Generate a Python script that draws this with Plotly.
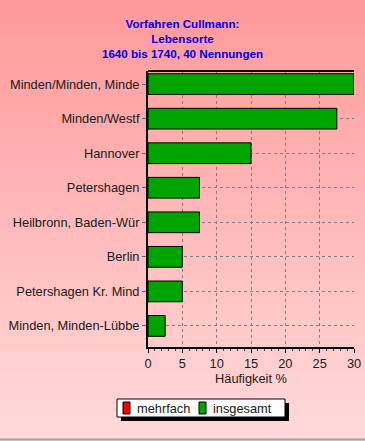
import plotly.graph_objects as go

categories = ["Minden/Minden, Minde", "Minden/Westf", "Hannover", "Petershagen",
              "Heilbronn, Baden-Wür", "Berlin", "Petershagen Kr. Mind", "Minden, Minden-Lübbe"]
insgesamt = [30, 27.5, 15, 7.5, 7.5, 5, 5, 2.5]
mehrfach = [0, 0, 0, 0, 0, 0, 0, 0]
x_ticks = [0, 5, 10, 15, 20, 25, 30]
series_names = ["mehrfach", "insgesamt"]
series_colors = ["#ff0000", "#00a400"]

title_lines = ["Vorfahren Cullmann:", "Lebensorte", "1640 bis 1740, 40 Nennungen"]

W, H = 365, 441
L, R, T, B = 148, 11, 71, 94
pw = W - L - R
ph = H - T - B


def px(x):
    return (x - L) / pw


def py(y):
    return (H - B - y) / ph


fig = go.Figure()
fig.add_trace(go.Bar(y=categories, x=mehrfach, orientation="h", name=series_names[0],
                     marker=dict(color=series_colors[0], line=dict(width=0)), width=0.6,
                     showlegend=False))
fig.add_trace(go.Bar(y=categories, x=insgesamt, orientation="h", name=series_names[1],
                     marker=dict(color=series_colors[1], line=dict(color="black", width=1)),
                     width=0.6, showlegend=False))

shapes = []
n = 80
top = (255, 153, 153)
bot = (255, 218, 218)
for i in range(n):
    t = i / (n - 1)
    c = tuple(int(round(top[k] + (bot[k] - top[k]) * t)) for k in range(3))
    y0 = H * i / n
    y1 = H * (i + 1) / n + 1
    shapes.append(dict(type="rect", xref="paper", yref="paper", layer="below",
                       x0=px(-5), x1=px(W + 5), y0=py(y1), y1=py(y0),
                       fillcolor="rgb(%d,%d,%d)" % c, line=dict(width=0)))

# legend box with shadow
shapes.append(dict(type="rect", xref="paper", yref="paper", x0=px(121), x1=px(289),
                   y0=py(421), y1=py(403), fillcolor="black", line=dict(width=0)))
shapes.append(dict(type="rect", xref="paper", yref="paper", x0=px(117), x1=px(285),
                   y0=py(417), y1=py(399), fillcolor="white", line=dict(color="black", width=1)))
annotations = []
leg_x = [123, 199]
for name, col, lx in zip(series_names, series_colors, leg_x):
    shapes.append(dict(type="rect", xref="paper", yref="paper", x0=px(lx), x1=px(lx + 7),
                       y0=py(414), y1=py(402), fillcolor=col, line=dict(color="black", width=1)))
    annotations.append(dict(text=name, xref="paper", yref="paper", x=px(lx + 12), y=py(408),
                            xanchor="left", yanchor="middle", showarrow=False,
                            font=dict(size=12.8, color="#202020")))

# window border at bottom
shapes.append(dict(type="line", xref="paper", yref="paper", x0=px(0), x1=px(365),
                   y0=py(439.5), y1=py(439.5), line=dict(color="#a0a0a0", width=2)))
# top frame line
shapes.append(dict(type="line", xref="paper", yref="paper", x0=0, x1=1, y0=1, y1=1,
                   line=dict(color="black", width=2)))

fig.update_layout(
    width=W, height=H,
    margin=dict(l=L, r=R, t=T, b=B),
    paper_bgcolor="rgb(255,153,153)",
    plot_bgcolor="rgba(0,0,0,0)",
    barmode="overlay",
    shapes=shapes,
    annotations=annotations,
    showlegend=False,
    font=dict(family="Liberation Sans, Arial", size=12.8, color="#202020"),
    title=dict(text="<br>".join(title_lines), x=0.5, xref="container", y=1 - 28 / H, yanchor="top",
               font=dict(family="Liberation Sans, Arial", size=11.6, color="#0000ee", weight="bold")),
)
fig.update_xaxes(range=[0, 30], tickvals=x_ticks, showgrid=True, gridcolor="#808080",
                 griddash="3px,3px", gridwidth=1, showline=True, linecolor="black", linewidth=2,
                 ticks="outside", ticklen=4, tickcolor="black", automargin=False,
                 minor=dict(dtick=1, ticks="outside", ticklen=2, tickcolor="#404040", showgrid=False),
                 title=dict(text="Häufigkeit %", standoff=4, font=dict(size=12.8)),
                 zeroline=False, fixedrange=True)
fig.update_yaxes(categoryorder="array", categoryarray=categories, automargin=False,
                 range=[7.61, -0.38], showgrid=True, gridcolor="#808080", griddash="3px,3px",
                 gridwidth=1, showline=True, linecolor="black", linewidth=2,
                 ticks="outside", ticklen=4, tickcolor="#606060", fixedrange=True)

fig.write_html("out.html", config={"displayModeBar": False},
               post_script="document.body.style.margin='0';document.body.style.overflow='hidden';")
